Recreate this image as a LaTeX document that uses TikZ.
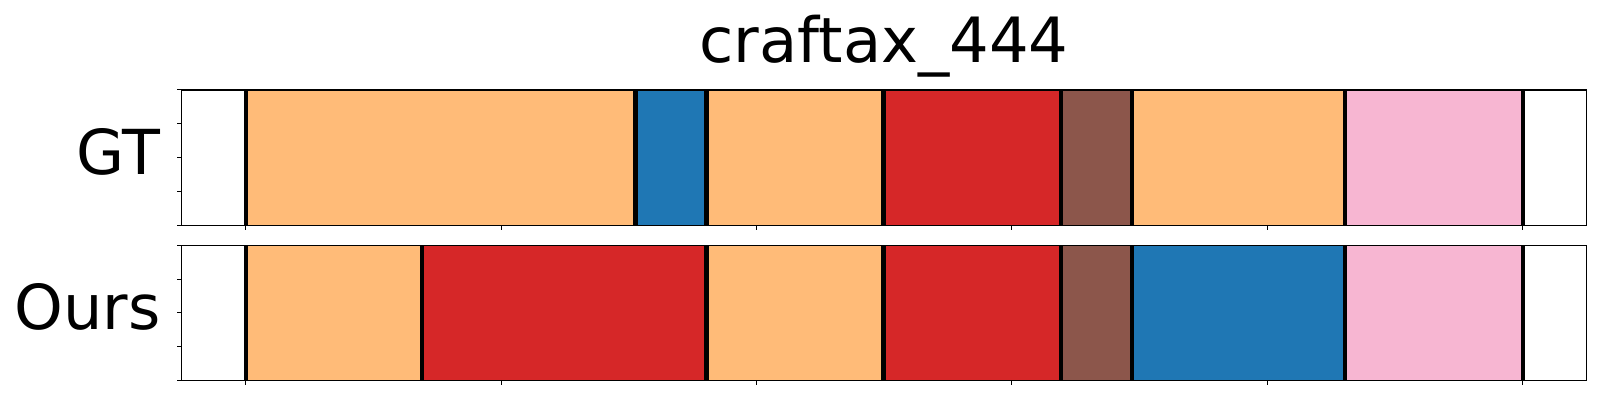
\documentclass[tikz,border=0pt]{standalone}
\usepackage{fontspec}
\setmainfont{DejaVu Sans}
\definecolor{segorange}{HTML}{FFBB78}
\definecolor{segblue}{HTML}{1F77B4}
\definecolor{segred}{HTML}{D62728}
\definecolor{segbrown}{HTML}{8C564B}
\definecolor{segpink}{HTML}{F7B6D2}
\tikzset{
  axframe/.style={draw=black,line width=0.6pt},
  bound/.style={draw=black,line width=2.1pt},
  tickmark/.style={draw=black,line width=0.5pt},
  bigtext/.style={font=\fontsize{31}{37}\selectfont, inner sep=0pt},
  titletext/.style={font=\fontsize{31.2}{37}\selectfont, inner sep=0pt}
}
\begin{document}
\begin{tikzpicture}[x=0.5pt,y=-0.5pt]
\useasboundingbox (0,0) rectangle (1600,400);
\fill[white] (0,0) rectangle (1600,400);
\node[titletext, anchor=base] (title) at (884,62.3) {craftax\_444};
\node[bigtext, anchor=base east] (gt) at (161,175) {GT};
\node[bigtext, anchor=base east] (ours) at (161,330) {Ours};
\begin{scope}[x=127.7pt, xshift=122.85pt]
  % GT axis
  \foreach \a/\b/\c in {0/1.526/segorange, 1.526/1.804/segblue, 1.804/2.497/segorange, 2.497/3.192/segred, 3.192/3.470/segbrown, 3.470/4.304/segorange, 4.304/5/segpink}
    \fill[\c] (\a,90) rectangle (\b,225.3);
  \foreach \a in {0,1.526,1.804,2.497,3.192,3.470,4.304,5}
    \draw[bound] (\a,90) -- (\a,225.3);
  \draw[axframe] (-0.25,90) rectangle (5.25,225.3);
  \foreach \t in {0,...,5}
    \draw[tickmark] (\t,225.3) -- ([yshift=-2.5pt]\t,225.3);
  \foreach \y in {90,123.8,157.7,191.5,225.3}
    \draw[tickmark] (-0.25,\y) -- ([xshift=-2.5pt]-0.25,\y);
  % Ours axis
  \foreach \a/\b/\c in {0/0.690/segorange, 0.690/1.804/segred, 1.804/2.497/segorange, 2.497/3.192/segred, 3.192/3.470/segbrown, 3.470/4.304/segblue, 4.304/5/segpink}
    \fill[\c] (\a,245.3) rectangle (\b,380.3);
  \foreach \a in {0,0.690,1.804,2.497,3.192,3.470,4.304,5}
    \draw[bound] (\a,245.3) -- (\a,380.3);
  \draw[axframe] (-0.25,245.3) rectangle (5.25,380.3);
  \foreach \t in {0,...,5}
    \draw[tickmark] (\t,380.3) -- ([yshift=-2.5pt]\t,380.3);
  \foreach \y in {245.3,279.05,312.8,346.55,380.3}
    \draw[tickmark] (-0.25,\y) -- ([xshift=-2.5pt]-0.25,\y);
\end{scope}
\end{tikzpicture}
\end{document}
